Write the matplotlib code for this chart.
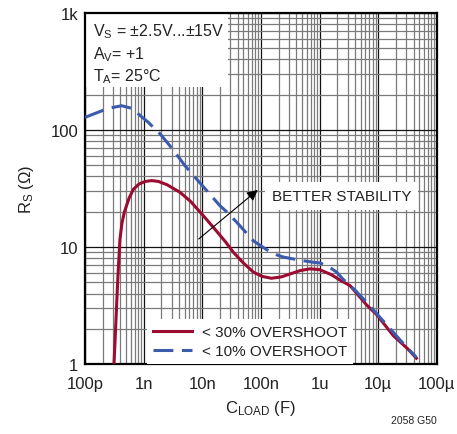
import matplotlib
matplotlib.use('Agg')
import matplotlib.pyplot as plt
from matplotlib.patches import Rectangle
from matplotlib.ticker import LogLocator, NullFormatter

plt.rcParams['font.family'] = ['Liberation Sans', 'DejaVu Sans']
plt.rcParams['mathtext.default'] = 'regular'

# < 30% overshoot (solid)
c30 = [3.09e-10, 3.24e-10, 3.39e-10, 3.56e-10, 3.72e-10, 3.95e-10, 4.27e-10, 4.68e-10,
       5.62e-10, 6.65e-10, 8.32e-10, 1.07e-9, 1.37e-9, 1.78e-9, 2.51e-9, 4.17e-9,
       6.31e-9, 1.04e-8, 1.58e-8, 2.51e-8, 3.39e-8, 5.01e-8, 7.41e-8, 1.05e-7,
       1.51e-7, 2.24e-7, 3.12e-7, 4.62e-7, 6.84e-7, 1.0e-6, 1.58e-6, 2.24e-6,
       3.31e-6, 6.31e-6, 9.33e-6, 1.8e-5, 3.16e-5, 4.47e-5]
r30 = [0.9, 1.5, 2.5, 4.4, 6.9, 11.7, 16.0, 19.8,
       26.0, 31.0, 34.5, 36.3, 36.9, 36.3, 34.0, 29.3,
       24.5, 18.5, 14.5, 11.0, 9.0, 7.3, 6.1, 5.6,
       5.4, 5.55, 5.87, 6.27, 6.5, 6.4, 5.8, 5.2,
       4.67, 3.2, 2.65, 1.75, 1.35, 1.12]

# < 10% overshoot (dashed)
c10 = [1.0e-10, 1.58e-10, 2.51e-10, 4.22e-10, 6.25e-10, 8.13e-10, 1.2e-9, 1.67e-9,
       1.91e-9, 3.16e-9, 5.06e-9, 8.02e-9, 2.0e-8, 2.6e-8, 3.98e-8, 7.41e-8,
       1.0e-7, 1.58e-7, 2.4e-7, 4.62e-7, 7.76e-7, 1.02e-6, 1.41e-6, 1.95e-6,
       2.51e-6, 3.98e-6, 6.31e-6, 1.0e-5, 1.8e-5, 2.82e-5, 4.47e-5]
r10 = [128, 140, 153, 161, 153, 137, 116, 98.6,
       92.5, 68, 49.5, 38, 22.5, 20, 16, 11.3,
       10.2, 8.8, 8.2, 7.7, 7.4, 7.3, 6.8, 6.1,
       5.3, 4.3, 3.37, 2.6, 1.87, 1.45, 1.14]

xticks = [1e-10, 1e-9, 1e-8, 1e-7, 1e-6, 1e-5, 1e-4]
xlabels = ['100p', '1n', '10n', '100n', '1u', '10µ', '100µ']
yticks = [1, 10, 100, 1000]
ylabels = ['1', '10', '100', '1k']

fig = plt.figure(figsize=(4.57, 4.35), dpi=100)
ax = fig.add_axes([0.186, 0.161, 0.770, 0.807])

ax.plot(c30, r30, color='#9b0b32', lw=2.2, label='< 30% OVERSHOOT', zorder=3)
ax.plot(c10, r10, color='#3b5bad', lw=2.2, dashes=(6.5, 2.8), label='< 10% OVERSHOOT', zorder=3)

ax.set_xscale('log')
ax.set_yscale('log')
ax.set_xlim(1e-10, 1e-4)
ax.set_ylim(1, 1000)
ax.set_xticks(xticks)
ax.set_xticklabels(xlabels)
ax.set_yticks(yticks)
ax.set_yticklabels(ylabels)
ax.xaxis.set_minor_locator(LogLocator(base=10, subs=range(2, 10), numticks=100))
ax.yaxis.set_minor_locator(LogLocator(base=10, subs=range(2, 10), numticks=100))
ax.xaxis.set_minor_formatter(NullFormatter())
ax.yaxis.set_minor_formatter(NullFormatter())
ax.tick_params(which='both', length=0, labelsize=12, colors='#222222')
ax.tick_params(axis='x', pad=9)
ax.tick_params(axis='y', pad=5)
ax.set_axisbelow(True)
ax.grid(which='major', color='#111111', lw=0.9)
ax.grid(which='minor', color='#7a7a7a', lw=0.9)
for s in ax.spines.values():
    s.set_linewidth(1.6)

ax.set_xlabel('C$_{LOAD}$ (F)', fontsize=12, color='#222222', labelpad=5)
ax.set_ylabel('R$_{S}$ (Ω)', fontsize=12, color='#222222', labelpad=10)

ax.add_patch(Rectangle((0, 0.789), 0.406, 0.211, transform=ax.transAxes,
                       facecolor='white', edgecolor='none', zorder=1))
ax.text(0.022, 0.975, 'V$_{S}$ = ±2.5V...±15V\nA$_{V}$= +1\nT$_{A}$= 25°C',
        transform=ax.transAxes, fontsize=11.5, va='top', ha='left',
        linespacing=1.25, color='#222222', zorder=4)

ax.annotate('', xy=(9.6e-8, 31.8), xytext=(8.0e-9, 11.3),
            arrowprops=dict(arrowstyle='-|>', color='black', lw=0.8,
                            mutation_scale=16), zorder=4)
ax.text(1.54e-7, 27.3, 'BETTER STABILITY', fontsize=11, va='center', ha='left',
        color='#222222', zorder=4,
        bbox=dict(facecolor='white', edgecolor='none', pad=5))

leg = ax.legend(loc='lower left', bbox_to_anchor=(0.175, 0.0), fontsize=11,
                frameon=True, fancybox=False, framealpha=1, edgecolor='none',
                borderaxespad=0, handlelength=2.6, handletextpad=0.6,
                labelspacing=0.3, borderpad=0.4)
for t in leg.get_texts():
    t.set_color('#222222')

fig.text(0.956, 0.02, '2058 G50', fontsize=7.5, ha='right', va='bottom', color='#222222')

fig.savefig('out.png', dpi=100)
